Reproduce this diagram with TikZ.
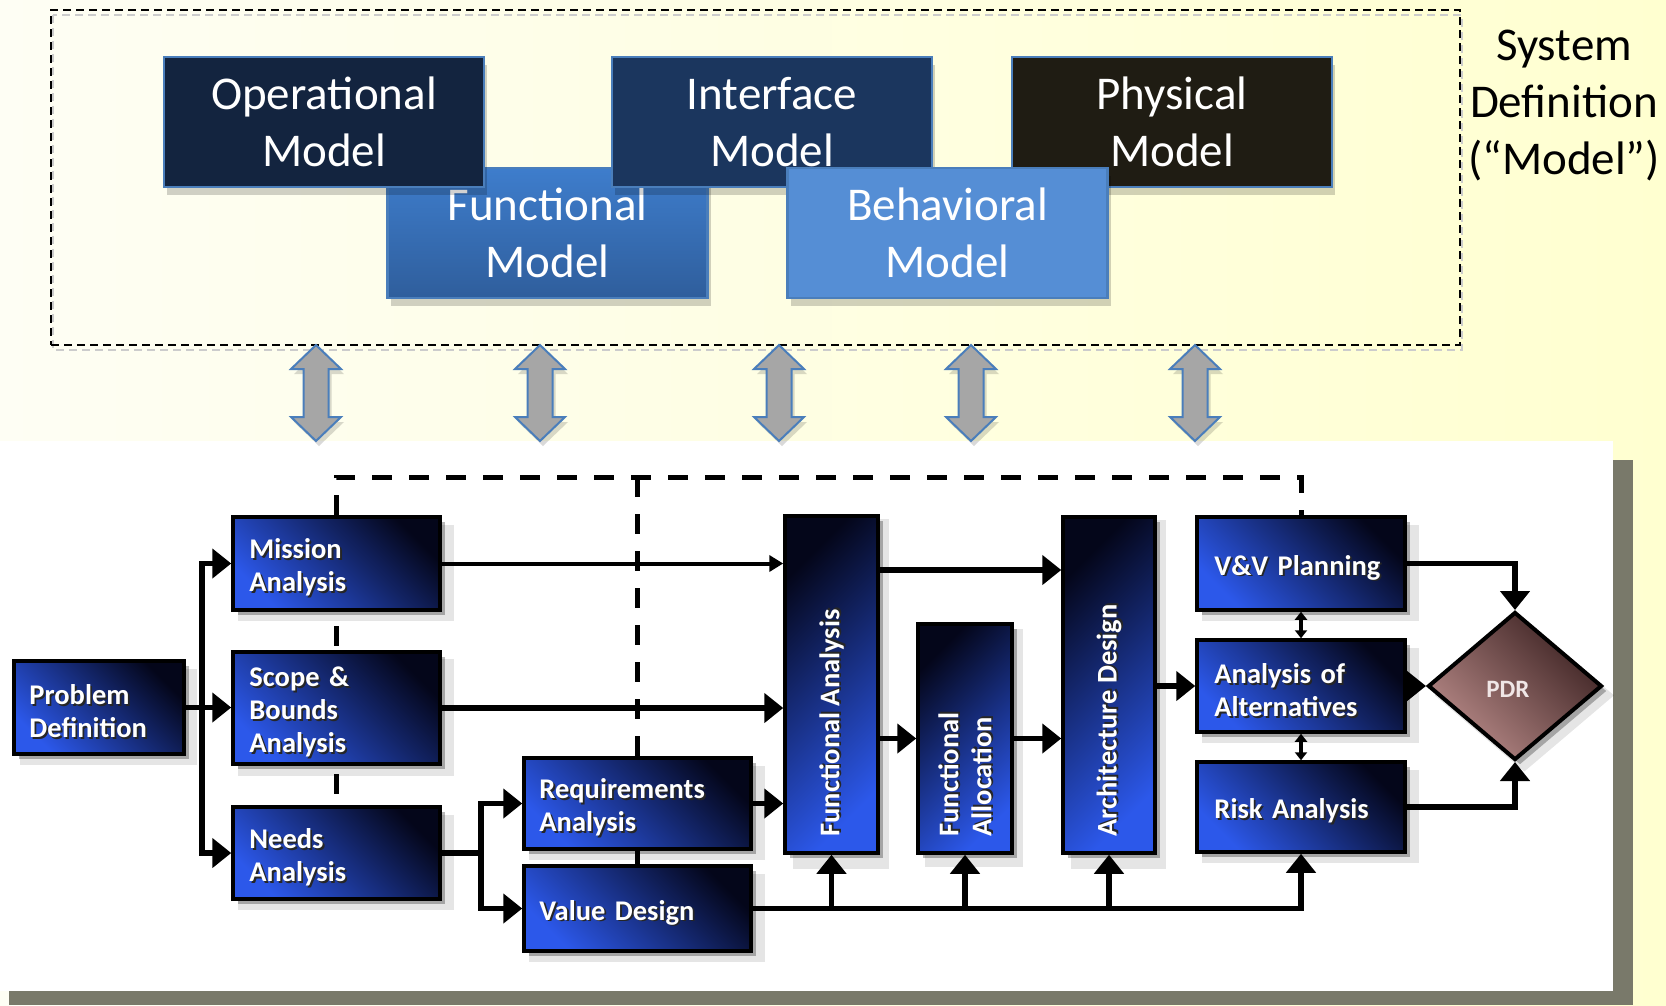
\documentclass[tikz,border=0pt]{standalone}
\usepackage{fontspec}
\setmainfont{Carlito}
\usetikzlibrary{arrows.meta,shadows,shapes.geometric}
\definecolor{bgL}{HTML}{FEFEF4}
\definecolor{bgR}{HTML}{FFFFD0}
\definecolor{panelShadow}{HTML}{79796A}
\definecolor{topBorder}{HTML}{4A7EBB}
\definecolor{opCol}{HTML}{13243F}
\definecolor{ifCol}{HTML}{1B365E}
\definecolor{phCol}{HTML}{1F1C13}
\definecolor{fnTop}{HTML}{3E7DCC}
\definecolor{fnBot}{HTML}{2F5E9C}
\definecolor{bhCol}{HTML}{558ED5}
\definecolor{bxDark}{HTML}{04061A}
\definecolor{bxMid}{HTML}{162B86}
\definecolor{bxBright}{HTML}{2C58EA}
\definecolor{pdrDark}{HTML}{3C2222}
\definecolor{pdrLight}{HTML}{B88A88}
\definecolor{pdrText}{HTML}{F0E6E6}
\definecolor{arrGray}{HTML}{A6A6A6}
\newcommand\topfont{\fontsize{47pt}{57pt}\selectfont}
\newcommand\boxfont{\fontsize{28.5pt}{33pt}\selectfont\bfseries}
\newcommand\shtxt[1]{\makebox[0pt][l]{\hspace{1.8pt}\raisebox{-1.8pt}[0pt][0pt]{\color{black!85}#1}}#1}
\pgfdeclarelayer{back}
\pgfdeclarelayer{mid}
\pgfsetlayers{back,mid,main}
\begin{document}
\begin{tikzpicture}[x=1pt,y=-1pt,
 topbox/.style={draw=topBorder,line width=2.5pt,text=white,font=\topfont,align=center,minimum width=320pt,minimum height=130pt,inner sep=0pt,general shadow={shadow xshift=3pt,shadow yshift=-8pt,fill=black,opacity=0.18}},
 bshadow/.style={general shadow={shadow xshift=9pt,shadow yshift=-9pt,fill=black,opacity=0.10,shadow scale=1.04},general shadow={shadow xshift=5pt,shadow yshift=-5pt,fill=black,opacity=0.28}},
 hbox/.style n args={2}{bshadow,draw=black,line width=3.5pt,top color=bxDark,middle color=bxMid,bottom color=bxBright,shading angle=-45,inner sep=0pt,minimum width=#1pt,minimum height=#2pt},
 btext/.style={anchor=west,text=white,font=\boxfont,align=left,inner sep=0pt,text width=#1pt},
 vbox/.style n args={2}{bshadow,draw=black,line width=3.5pt,top color=bxDark,middle color=bxMid,bottom color=bxBright,shading angle=45,inner sep=0pt,minimum width=#1pt,minimum height=#2pt},
 vtext/.style={rotate=90,anchor=west,text=white,font=\boxfont,align=left,inner sep=0pt},
 conn/.style={line width=5.5pt,draw=black,line cap=rect},
 arr/.style={conn,-{Triangle[length=19pt,width=29pt]}},
 thinarr/.style={line width=4pt,draw=black,-{Triangle[length=14pt,width=16pt]}},
 dbl/.style={line width=3.5pt,draw=black,{Triangle[length=8pt,width=12pt]}-{Triangle[length=8pt,width=12pt]}},
 dashconn/.style={line width=5pt,draw=black,dash pattern=on 20pt off 17pt},
 blockarrow/.style={fill=arrGray,draw=topBorder,line width=2pt,line join=miter,general shadow={shadow xshift=3pt,shadow yshift=-5pt,fill=black,opacity=0.15}},
]
\useasboundingbox (0,0) rectangle (1666,1005);
\begin{pgfonlayer}{back}
\fill[left color=bgL,right color=bgR] (0,0) rectangle (1666,1005);
\fill[panelShadow] (9,460) rectangle (1633,1005);
\fill[white] (0,441) rectangle (1613,991);
\end{pgfonlayer}

% top system definition box
\draw[black!20,line width=1.6pt,dash pattern=on 8pt off 5pt] (53,15) rectangle (1462,350);
\node[draw=black,line width=1.6pt,dash pattern=on 8pt off 5pt,minimum width=1409pt,minimum height=335pt,inner sep=0pt] (sysbox) at (755.5,177.5) {};
\node[font=\topfont,align=center,inner sep=0pt] (sdef) at (1564,106) {System\\Definition\\(“Model”)};

\node[topbox,top color=fnTop,bottom color=fnBot] (fun) at (547.5,233) {Functional\\Model};
\node[topbox,fill=opCol] (op) at (324,122) {Operational\\Model};
\node[topbox,fill=ifCol] (if) at (772,122) {Interface\\Model};
\node[topbox,fill=phCol] (ph) at (1172,122) {Physical\\Model};
\node[topbox,fill=bhCol] (bh) at (947.5,233) {Behavioral\\Model};

% block double arrows
\foreach \cx in {316,540,779,971,1195}{
 \path[blockarrow] (\cx,345) -- (\cx+25,369) -- (\cx+12.5,369) -- (\cx+12.5,417) -- (\cx+25,417) -- (\cx,441) -- (\cx-25,417) -- (\cx-12.5,417) -- (\cx-12.5,369) -- (\cx-25,369) -- cycle;
}

% bottom process boxes
\node[hbox={170}{93}] (pd) at (99,707.5) {};
\node[hbox={207}{93}] (ma) at (336.5,563.5) {};
\node[hbox={207}{112}] (sb) at (336.5,708) {};
\node[hbox={207}{92}] (na) at (336.5,853) {};
\node[hbox={227}{91}] (ra) at (637.5,803.5) {};
\node[hbox={227}{85}] (vd) at (637.5,908.5) {};
\node[vbox={93}{337}] (fa) at (831.5,684.5) {};
\node[vbox={94}{229}] (fal) at (965,738.5) {};
\node[vbox={92}{336}] (ad) at (1109,685) {};
\node[hbox={208}{93}] (vv) at (1301,563.5) {};
\node[hbox={208}{92}] (aoa) at (1301,686) {};
\node[hbox={208}{90}] (ri) at (1301,807) {};
\node[diamond,aspect=1.18,minimum width=174pt,minimum height=148pt,inner sep=0pt,draw=black,line width=4pt,top color=pdrDark,bottom color=pdrLight,shading angle=-45,bshadow] (pdr) at (1515,686) {};

% box texts
\node[btext=140] (pdT) at ([xshift=17pt,yshift=-4pt]pd.west) {\shtxt{Problem}\\\shtxt{Definition}};
\node[btext=175] (maT) at ([xshift=18pt,yshift=-4pt]ma.west) {\shtxt{Mission}\\\shtxt{Analysis}};
\node[btext=175] (sbT) at ([xshift=18pt,yshift=-4pt]sb.west) {\shtxt{Scope \&}\\\shtxt{Bounds}\\\shtxt{Analysis}};
\node[btext=175] (naT) at ([xshift=18pt,yshift=-4pt]na.west) {\shtxt{Needs}\\\shtxt{Analysis}};
\node[btext=195] (raT) at ([xshift=17pt,yshift=-4pt]ra.west) {\shtxt{Requirements}\\\shtxt{Analysis}};
\node[btext=195] (vdT) at ([xshift=17pt,yshift=-4pt]vd.west) {\shtxt{Value Design}};
\node[vtext] (faT) at ([yshift=18pt]fa.south) {\shtxt{Functional Analysis}};
\node[vtext] (falT) at ([yshift=18pt]fal.south) {\shtxt{Functional}\\\shtxt{Allocation}};
\node[vtext] (adT) at ([yshift=18pt]ad.south) {\shtxt{Architecture Design}};
\node[btext=180] (vvT) at ([xshift=19pt,yshift=-4pt]vv.west) {\shtxt{V\&V Planning}};
\node[btext=180] (aoaT) at ([xshift=19pt,yshift=-4pt]aoa.west) {\shtxt{Analysis of}\\\shtxt{Alternatives}};
\node[btext=180] (riT) at ([xshift=19pt,yshift=-4pt]ri.west) {\shtxt{Risk Analysis}};
\node[text=pdrText,font=\fontsize{25pt}{30pt}\selectfont\bfseries,inner sep=0pt] (pdrT) at ([xshift=-7pt,yshift=-3pt]pdr.center) {PDR};

% dashed links (behind boxes)
\coordinate (r477) at (0,477);
\begin{pgfonlayer}{mid}
\draw[dashconn] (ma.north) -- (ma.north |- r477) -- (vv.north |- r477) -- (vv.north);
\draw[dashconn] (ma.north) -- (na.north);
\draw[dashconn] (ra.north |- r477) -- (vd.north);
\end{pgfonlayer}

% solid connectors
\coordinate (b1) at (202,0);
\coordinate (b2) at (481,0);
\coordinate (r570) at (0,570);
\draw[conn] (pd.east) -- (pd.east -| b1);
\draw[arr] (pd.east -| b1) |- (ma.west);
\draw[arr] (pd.east -| b1) |- (na.west);
\draw[arr] (pd.east -| b1) -- (pd.east -| sb.west);
\draw[thinarr] (ma.east) -- (ma.east -| fa.west);
\draw[arr] (sb.east) -- (sb.east -| fa.west);
\draw[conn] (na.east) -- (na.east -| b2);
\draw[arr] (na.east -| b2) |- (ra.west);
\draw[arr] (na.east -| b2) |- (vd.west);
\draw[arr] (ra.east) -- (ra.east -| fa.west);
\draw[arr] (vd.east) -| (ri.south);
\draw[arr] (vd.east -| fa.south) -- (fa.south);
\draw[arr] (vd.east -| fal.south) -- (fal.south);
\draw[arr] (vd.east -| ad.south) -- (ad.south);
\draw[arr] (fa.east |- r570) -- (ad.west |- r570);
\draw[arr] (fa.east |- fal.west) -- (fal.west);
\draw[arr] (fal.east) -- (fal.east -| ad.west);
\draw[arr] (ad.east |- aoa.west) -- (aoa.west);
\draw[arr] (aoa.east) -- (pdr.west);
\draw[arr] (vv.east) -| (pdr.north);
\draw[arr] (ri.east) -| (pdr.south);
\draw[dbl] (vv.south) -- (aoa.north);
\draw[dbl] (aoa.south) -- (ri.north);
\end{tikzpicture}
\end{document}
